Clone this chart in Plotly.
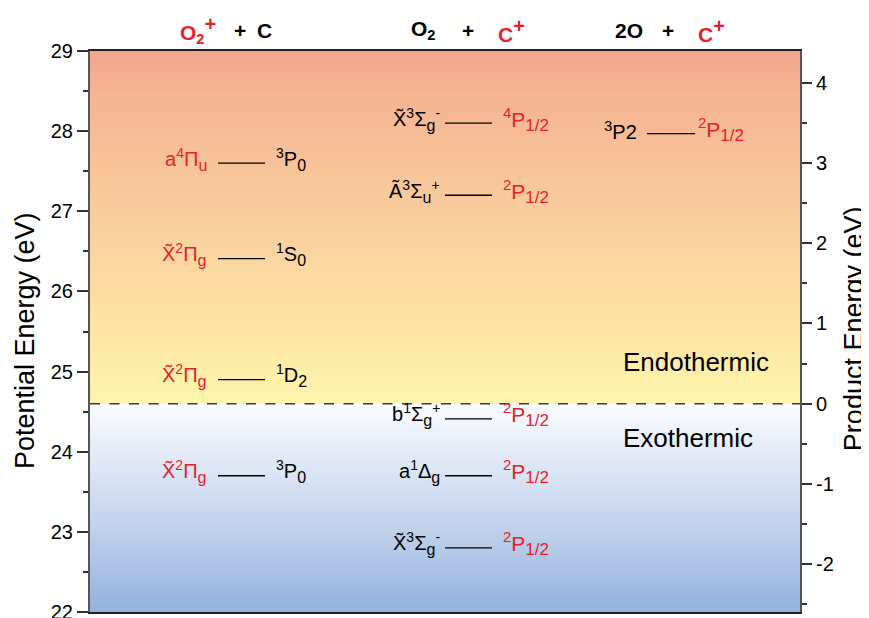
import numpy as np
import plotly.graph_objects as go

RED = "#E8202A"
THRESH = 24.6  # potential energy where product energy = 0


def SUP(t, s=14):
    return f"<sup><span style='font-size:{s}px'>{t}</span></sup>"


def SUB(t, s=16):
    return f"<sub><span style='font-size:{s}px'>{t}</span></sub>"


XT = "X\u0303"
AT = "A\u0303"

# Energy levels (potential energy, eV)
left_levels = [27.60, 26.41, 24.90, 23.70]
left_lab_l = ["a" + SUP("4") + "Π" + SUB("u"), XT + SUP("2") + "Π" + SUB("g"),
              XT + SUP("2") + "Π" + SUB("g"), XT + SUP("2") + "Π" + SUB("g")]
left_lab_r = [SUP("3") + "P" + SUB("0"), SUP("1") + "S" + SUB("0"),
              SUP("1") + "D" + SUB("2"), SUP("3") + "P" + SUB("0")]

mid_levels = [28.10, 27.20, 24.41, 23.70, 22.80]
mid_lab_l = [XT + SUP("3") + "Σ" + SUB("g") + SUP("-"), AT + SUP("3") + "Σ" + SUB("u") + SUP("+"),
             "b" + SUP("1") + "Σ" + SUB("g") + SUP("+"), "a" + SUP("1") + "Δ" + SUB("g"),
             XT + SUP("3") + "Σ" + SUB("g") + SUP("-")]
mid_lab_r = [SUP("4", 15) + "P" + SUB("1/2", 17), SUP("2", 15) + "P" + SUB("1/2", 17),
             SUP("2", 15) + "P" + SUB("1/2", 17), SUP("2", 15) + "P" + SUB("1/2", 17),
             SUP("2", 15) + "P" + SUB("1/2", 17)]

right_levels = [27.97]
right_lab_l = [SUP("3", 15) + "P2"]
right_lab_r = [SUP("2", 15) + "P" + SUB("1/2", 17)]

BIGPLUS = "<sup><span style='font-size:20px'>+</span></sup>"
header_parts = [
    # (text, color, x-center in axis units)
    ("O<sub>2</sub>" + BIGPLUS, RED, 198), ("+", "black", 240), ("C", "black", 264),
    ("O<sub>2</sub>", "black", 423), ("+", "black", 468), ("C" + BIGPLUS, RED, 511),
    ("2O", "black", 629), ("+", "black", 668), ("C" + BIGPLUS, RED, 711),
]

left_ticks = [22, 23, 24, 25, 26, 27, 28, 29]
right_ticks = [-2, -1, 0, 1, 2, 3, 4]

YMIN, YMAX = 22, 29
X0, X1 = 90, 800
FONT = "Liberation Sans, Arial, sans-serif"

# background colour stops (energy, rgb)
warm = [(24.6, (255, 245, 172)), (25.5, (252, 229, 163)), (26.5, (250, 213, 160)),
        (27.5, (248, 196, 154)), (28.5, (245, 179, 146)), (29.0, (242, 166, 142))]
cool = [(22.0, (146, 177, 221)), (23.0, (190, 208, 235)), (24.0, (228, 235, 247)),
        (24.6, (250, 251, 254))]

fig = go.Figure()


def grad_trace(stops, lo, hi):
    ys = np.round(np.arange(lo, hi + 1e-9, 0.01), 3)
    cs = [[(e - lo) / (hi - lo), f"rgb{c}"] for e, c in stops]
    fig.add_trace(go.Heatmap(x=[X0, X1], y=ys, z=[[v, v] for v in ys], colorscale=cs,
                             zmin=lo, zmax=hi, showscale=False, zsmooth="best",
                             hoverinfo="skip"))


grad_trace(cool, YMIN, THRESH)
grad_trace(warm, THRESH, YMAX)

shapes = [dict(type="line", xref="x", yref="y", x0=X0, x1=X1, y0=THRESH, y1=THRESH,
               line=dict(color="#3a3a3a", width=1.5, dash="10px,9.5px"))]

annotations = []


def add_column(center, hw, levels, lab_l, lab_r, col_l, col_r, gl, gr, size_r=20):
    for e, ll, rl in zip(levels, lab_l, lab_r):
        fig.add_trace(go.Scatter(x=[center - hw, center + hw], y=[e, e], mode="lines",
                                 line=dict(color="black", width=1.3), showlegend=False,
                                 hoverinfo="skip"))
        annotations.append(dict(x=center - hw, y=e, xref="x", yref="y", text=ll, showarrow=False,
                                xanchor="right", yanchor="middle", xshift=-gl, yshift=4,
                                font=dict(size=20, color=col_l, family=FONT)))
        annotations.append(dict(x=center + hw, y=e, xref="x", yref="y", text=rl, showarrow=False,
                                xanchor="left", yanchor="middle", xshift=gr, yshift=4,
                                font=dict(size=size_r, color=col_r, family=FONT)))


add_column(241.5, 23.5, left_levels, left_lab_l, left_lab_r, RED, "black", 9, 9)
add_column(468.5, 23.5, mid_levels, mid_lab_l, mid_lab_r, "black", RED, 3, 9, 21)
add_column(671, 24, right_levels, right_lab_l, right_lab_r, "black", RED, 8, 1, 21)

for t, c, px in header_parts:
    annotations.append(dict(x=px, y=1.037, xref="x", yref="paper", text=f"<b>{t}</b>", showarrow=False,
                            xanchor="center", yanchor="middle",
                            font=dict(size=21, color=c, family=FONT)))

annotations.append(dict(x=621, y=25.12, xref="x", yref="y", text="Endothermic", showarrow=False,
                        xanchor="left", yanchor="middle", font=dict(size=26, color="black", family=FONT)))
annotations.append(dict(x=621, y=24.17, xref="x", yref="y", text="Exothermic", showarrow=False,
                        xanchor="left", yanchor="middle", font=dict(size=26, color="black", family=FONT)))

# axis titles
annotations.append(dict(x=(25 - X0) / (X1 - X0), y=0.483, xref="paper", yref="paper",
                        text="Potential Energy (eV)", textangle=-90, showarrow=False,
                        xanchor="center", yanchor="middle", font=dict(size=27, color="black", family=FONT)))
annotations.append(dict(x=(854 - X0) / (X1 - X0), y=0.506, xref="paper", yref="paper",
                        text="Product Energy (eV)", textangle=-90, showarrow=False,
                        xanchor="center", yanchor="middle", font=dict(size=27, color="black", family=FONT)))

# invisible trace for right axis
fig.add_trace(go.Scatter(x=[(X0 + X1) / 2], y=[0], yaxis="y2", mode="markers", marker=dict(opacity=0),
                         showlegend=False, hoverinfo="skip"))

# page body has an 8px margin, so the figure is sized/offset to fit the 869x618 window
fig.update_layout(
    width=861, height=610,
    margin=dict(l=82, r=69, t=43, b=6),
    paper_bgcolor="white", plot_bgcolor="white",
    font=dict(family=FONT, color="black"),
    shapes=shapes, annotations=annotations,
    xaxis=dict(range=[X0, X1], showgrid=False, zeroline=False, showticklabels=False, ticks="",
               showline=True, linecolor="#222", linewidth=1.5, mirror=True, automargin=False),
    yaxis=dict(range=[YMIN, YMAX], tickvals=left_ticks, ticktext=[str(v) for v in left_ticks],
               showgrid=False, zeroline=False, ticklabeloverflow="allow",
               ticks="outside", ticklen=11, tickwidth=1.5, tickcolor="#333",
               showline=True, linecolor="#555", linewidth=2,
               minor=dict(ticks="outside", ticklen=5, dtick=0.5, tickcolor="#333", tickwidth=1.5),
               tickfont=dict(size=20), automargin=False),
    yaxis2=dict(range=[YMIN - THRESH, YMAX - THRESH], tickvals=right_ticks,
                ticktext=[str(v) for v in right_ticks], overlaying="y", side="right",
                showgrid=False, zeroline=False, ticklabeloverflow="allow",
                ticks="outside", ticklen=10, tickwidth=1.5, tickcolor="#333",
                showline=True, linecolor="#555", linewidth=2,
                minor=dict(ticks="outside", ticklen=5, dtick=0.5, tickcolor="#333", tickwidth=1.5),
                tickfont=dict(size=20), automargin=False),
)

fig.write_html("out.html")
